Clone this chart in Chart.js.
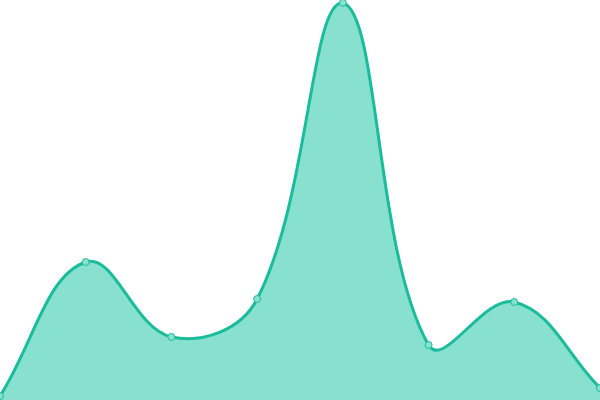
<!DOCTYPE html>
<html>
<head>
<meta charset="utf-8">
<script src="https://cdn.jsdelivr.net/npm/chart.js@4"></script>
<style>
  html, body { margin: 0; padding: 0; background: #fff; }
  #wrap { width: 600px; height: 400px; }
</style>
</head>
<body>
<div id="wrap"><canvas id="area-chart"></canvas></div>
<script>
const labels = ['1', '2', '3', '4', '5', '6', '7', '8'];
const values = [1, 34.5, 15.75, 25.25, 99.3, 13.75, 24.5, 3];
const yMin = 0;
const yMax = 100;

document.addEventListener("DOMContentLoaded", () => {
    const areaChart = document.getElementById('area-chart');
    new Chart(areaChart, {
        type: 'line',
        data: {
            labels: labels,
            datasets: [
                {
                    data: values,
                    fill: true,
                    tension: 0.4,
                    borderWidth: 3,
                    borderColor: '#1abc9c',
                    backgroundColor: '#88e0cf',
                    pointRadius: 3.5,
                    pointBorderWidth: 1,
                    pointBackgroundColor: '#88e0cf',
                    pointBorderColor: '#1abc9c'
                }
            ]
        },
        options: {
            responsive: true,
            maintainAspectRatio: false,
            animation: false,
            layout: { padding: 0, autoPadding: false },
            plugins: {
                legend: { display: false },
                tooltip: { enabled: false }
            },
            scales: {
                x: { display: false, offset: false },
                y: { display: false, min: yMin, max: yMax }
            }
        }
    });
})
</script>
</body>
</html>
